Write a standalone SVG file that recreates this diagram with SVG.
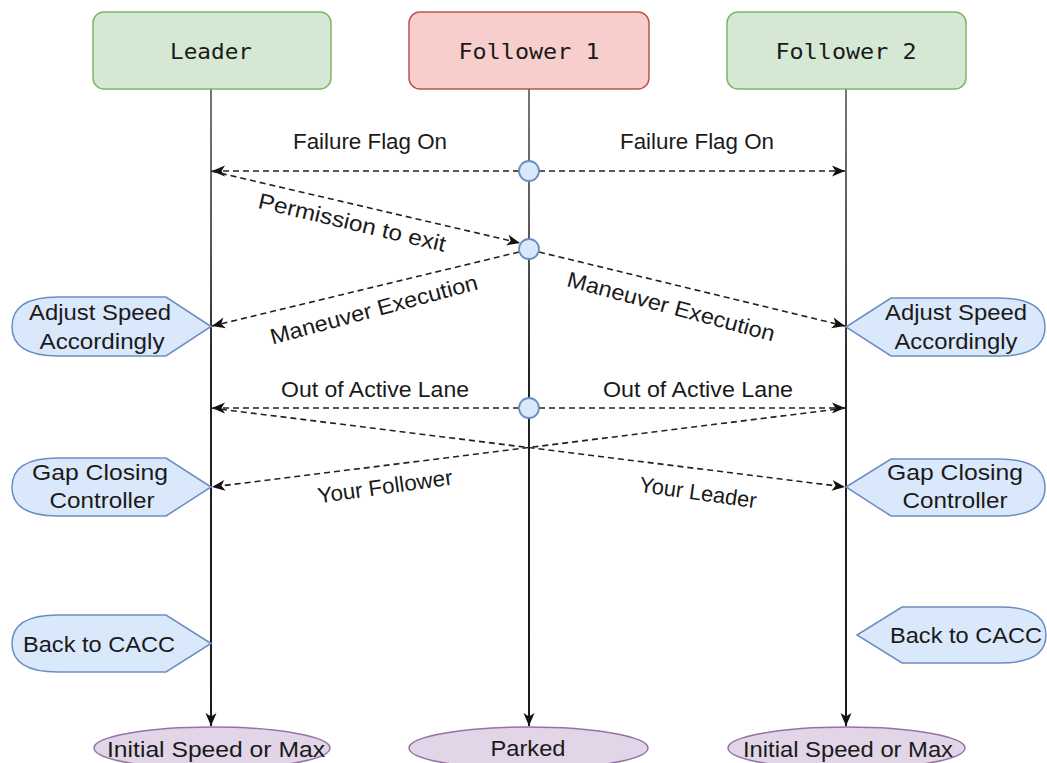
<svg xmlns="http://www.w3.org/2000/svg" width="1047" height="763" viewBox="0 0 1047 763">
  <defs>
    <marker id="arrow" markerUnits="userSpaceOnUse" markerWidth="15" markerHeight="13" refX="14" refY="6.5" orient="auto">
      <path d="M1,1 L14,6.5 L1,12 L4.5,6.5 Z" fill="#111"/>
    </marker>
    <!-- lifelines fade from grey under the boxes to near black -->
    <linearGradient id="lifeShade" gradientUnits="userSpaceOnUse" x1="0" y1="89" x2="0" y2="726">
      <stop offset="0" stop-color="#777"/>
      <stop offset="0.25" stop-color="#555"/>
      <stop offset="0.45" stop-color="#222"/>
      <stop offset="1" stop-color="#1a1a1a"/>
    </linearGradient>
    <style>
      .lane-box { stroke-width: 1.5; }
      .green { fill: #d5e8d4; stroke: #82b366; }
      .red { fill: #f8cecc; stroke: #b85450; }
      .mono { font-family: "DejaVu Sans Mono", "Liberation Mono", monospace; font-size: 22px; fill: #1a1a1a; text-anchor: middle; }
      .lbl { font-family: "Liberation Sans", Arial, sans-serif; font-size: 22px; fill: #1a1a1a; text-anchor: middle; }
      .life { stroke: url(#lifeShade); stroke-width: 2; fill: none; }
      .msg { stroke: #222; stroke-width: 1.6; stroke-dasharray: 6 4; fill: none; }
      .callout { fill: #dae8fc; stroke: #6c8ebf; stroke-width: 1.5; }
      .dot { fill: #dae8fc; stroke: #6c8ebf; stroke-width: 1.8; }
      .end { fill: #e1d5e7; stroke: #9673a6; stroke-width: 1.5; }
    </style>
  </defs>
  <rect width="1047" height="763" fill="#ffffff"/>

  <!-- lifelines and messages -->
  <g id="connectors">
    <path class="life" d="M211,89 V726" marker-end="url(#arrow)"/>
    <path class="life" d="M529,89 V726" marker-end="url(#arrow)"/>
    <path class="life" d="M846,89 V726" marker-end="url(#arrow)"/>

    <path class="msg" d="M519,171 H212" marker-end="url(#arrow)"/>
    <path class="msg" d="M539,171 H845" marker-end="url(#arrow)"/>
    <path class="msg" d="M211,171 L520,243" marker-end="url(#arrow)"/>
    <path class="msg" d="M519,252 L212,326" marker-end="url(#arrow)"/>
    <path class="msg" d="M539,252 L845,326" marker-end="url(#arrow)"/>
    <path class="msg" d="M519,408 H212" marker-end="url(#arrow)"/>
    <path class="msg" d="M539,408 H845" marker-end="url(#arrow)"/>
    <path class="msg" d="M846,408 L212,487" marker-end="url(#arrow)"/>
    <path class="msg" d="M211,408 L845,487" marker-end="url(#arrow)"/>

    <text class="lbl" x="370" y="149" textLength="154" lengthAdjust="spacingAndGlyphs">Failure Flag On</text>
    <text class="lbl" x="697" y="149" textLength="154" lengthAdjust="spacingAndGlyphs">Failure Flag On</text>
    <text class="lbl" transform="translate(352,223) rotate(13.3)" x="0" y="7" textLength="192" lengthAdjust="spacingAndGlyphs">Permission to exit</text>
    <text class="lbl" transform="translate(374,310) rotate(-15)" x="0" y="7" textLength="214" lengthAdjust="spacingAndGlyphs">Maneuver Execution</text>
    <text class="lbl" transform="translate(671,307) rotate(15)" x="0" y="7" textLength="214" lengthAdjust="spacingAndGlyphs">Maneuver Execution</text>
    <text class="lbl" x="375" y="397" textLength="188" lengthAdjust="spacingAndGlyphs">Out of Active Lane</text>
    <text class="lbl" x="698" y="397" textLength="190" lengthAdjust="spacingAndGlyphs">Out of Active Lane</text>
    <text class="lbl" transform="translate(385,487) rotate(-8)" x="0" y="7" font-size="19" textLength="136" lengthAdjust="spacingAndGlyphs">Your Follower</text>
    <text class="lbl" transform="translate(698,493) rotate(8)" x="0" y="7" font-size="19" textLength="118" lengthAdjust="spacingAndGlyphs">Your Leader</text>
  </g>

  <!-- participants -->
  <g id="leader">
    <rect class="lane-box green" x="93" y="12" width="238" height="77" rx="11"/>
    <text class="mono" x="211" y="59" textLength="82" lengthAdjust="spacingAndGlyphs">Leader</text>
  </g>
  <g id="follower1">
    <rect class="lane-box red" x="409" y="12" width="240" height="77" rx="11"/>
    <text class="mono" x="529" y="59" textLength="141" lengthAdjust="spacingAndGlyphs">Follower 1</text>
  </g>
  <g id="follower2">
    <rect class="lane-box green" x="727" y="12" width="239" height="77" rx="11"/>
    <text class="mono" x="846" y="59" textLength="141" lengthAdjust="spacingAndGlyphs">Follower 2</text>
  </g>

  <!-- event points on Follower 1 -->
  <g id="event-failure"><circle class="dot" cx="529" cy="171" r="10"/></g>
  <g id="event-permission"><circle class="dot" cx="529" cy="249" r="10"/></g>
  <g id="event-out-of-lane"><circle class="dot" cx="529" cy="408" r="10"/></g>

  <!-- actions on the Leader side -->
  <g id="leader-adjust">
    <path class="callout" d="M211,326.5 L166,297 L58,297 Q12,297 12,326.5 Q12,356 58,356 L166,356 Z"/>
    <text class="lbl" x="100" y="320" textLength="142" lengthAdjust="spacingAndGlyphs">Adjust Speed</text>
    <text class="lbl" x="102" y="349" textLength="125" lengthAdjust="spacingAndGlyphs">Accordingly</text>
  </g>
  <g id="leader-gap">
    <path class="callout" d="M211,487 L166,458 L58,458 Q12,458 12,487 Q12,516 58,516 L166,516 Z"/>
    <text class="lbl" x="100" y="480" textLength="136" lengthAdjust="spacingAndGlyphs">Gap Closing</text>
    <text class="lbl" x="102" y="508" textLength="105" lengthAdjust="spacingAndGlyphs">Controller</text>
  </g>
  <g id="leader-cacc">
    <path class="callout" d="M211,643.5 L166,615 L58,615 Q12,615 12,643.5 Q12,672 58,672 L166,672 Z"/>
    <text class="lbl" x="99" y="652" textLength="152" lengthAdjust="spacingAndGlyphs">Back to CACC</text>
  </g>

  <!-- actions on the Follower 2 side -->
  <g id="follower2-adjust">
    <path class="callout" d="M846,327 L891,298 L999,298 Q1045,298 1045,327 Q1045,356 999,356 L891,356 Z"/>
    <text class="lbl" x="956" y="320" textLength="142" lengthAdjust="spacingAndGlyphs">Adjust Speed</text>
    <text class="lbl" x="956" y="349" textLength="123" lengthAdjust="spacingAndGlyphs">Accordingly</text>
  </g>
  <g id="follower2-gap">
    <path class="callout" d="M846,487 L891,459 L999,459 Q1045,459 1045,487.5 Q1045,516 999,516 L891,516 Z"/>
    <text class="lbl" x="955" y="480" textLength="136" lengthAdjust="spacingAndGlyphs">Gap Closing</text>
    <text class="lbl" x="955" y="508" textLength="105" lengthAdjust="spacingAndGlyphs">Controller</text>
  </g>
  <g id="follower2-cacc">
    <path class="callout" d="M857,635 L902,607 L1000,607 Q1046,607 1046,635 Q1046,663 1000,663 L902,663 Z"/>
    <text class="lbl" x="966" y="643" textLength="152" lengthAdjust="spacingAndGlyphs">Back to CACC</text>
  </g>

  <!-- final states -->
  <g id="leader-final">
    <ellipse class="end" cx="212" cy="748" rx="118" ry="21"/>
    <text class="lbl" x="216" y="757" textLength="218" lengthAdjust="spacingAndGlyphs">Initial Speed or Max</text>
  </g>
  <g id="follower1-final">
    <ellipse class="end" cx="528.5" cy="748" rx="119.5" ry="21"/>
    <text class="lbl" x="528" y="756" textLength="75" lengthAdjust="spacingAndGlyphs">Parked</text>
  </g>
  <g id="follower2-final">
    <ellipse class="end" cx="846.5" cy="748" rx="118.5" ry="21"/>
    <text class="lbl" x="848" y="757" textLength="210" lengthAdjust="spacingAndGlyphs">Initial Speed or Max</text>
  </g>
</svg>
